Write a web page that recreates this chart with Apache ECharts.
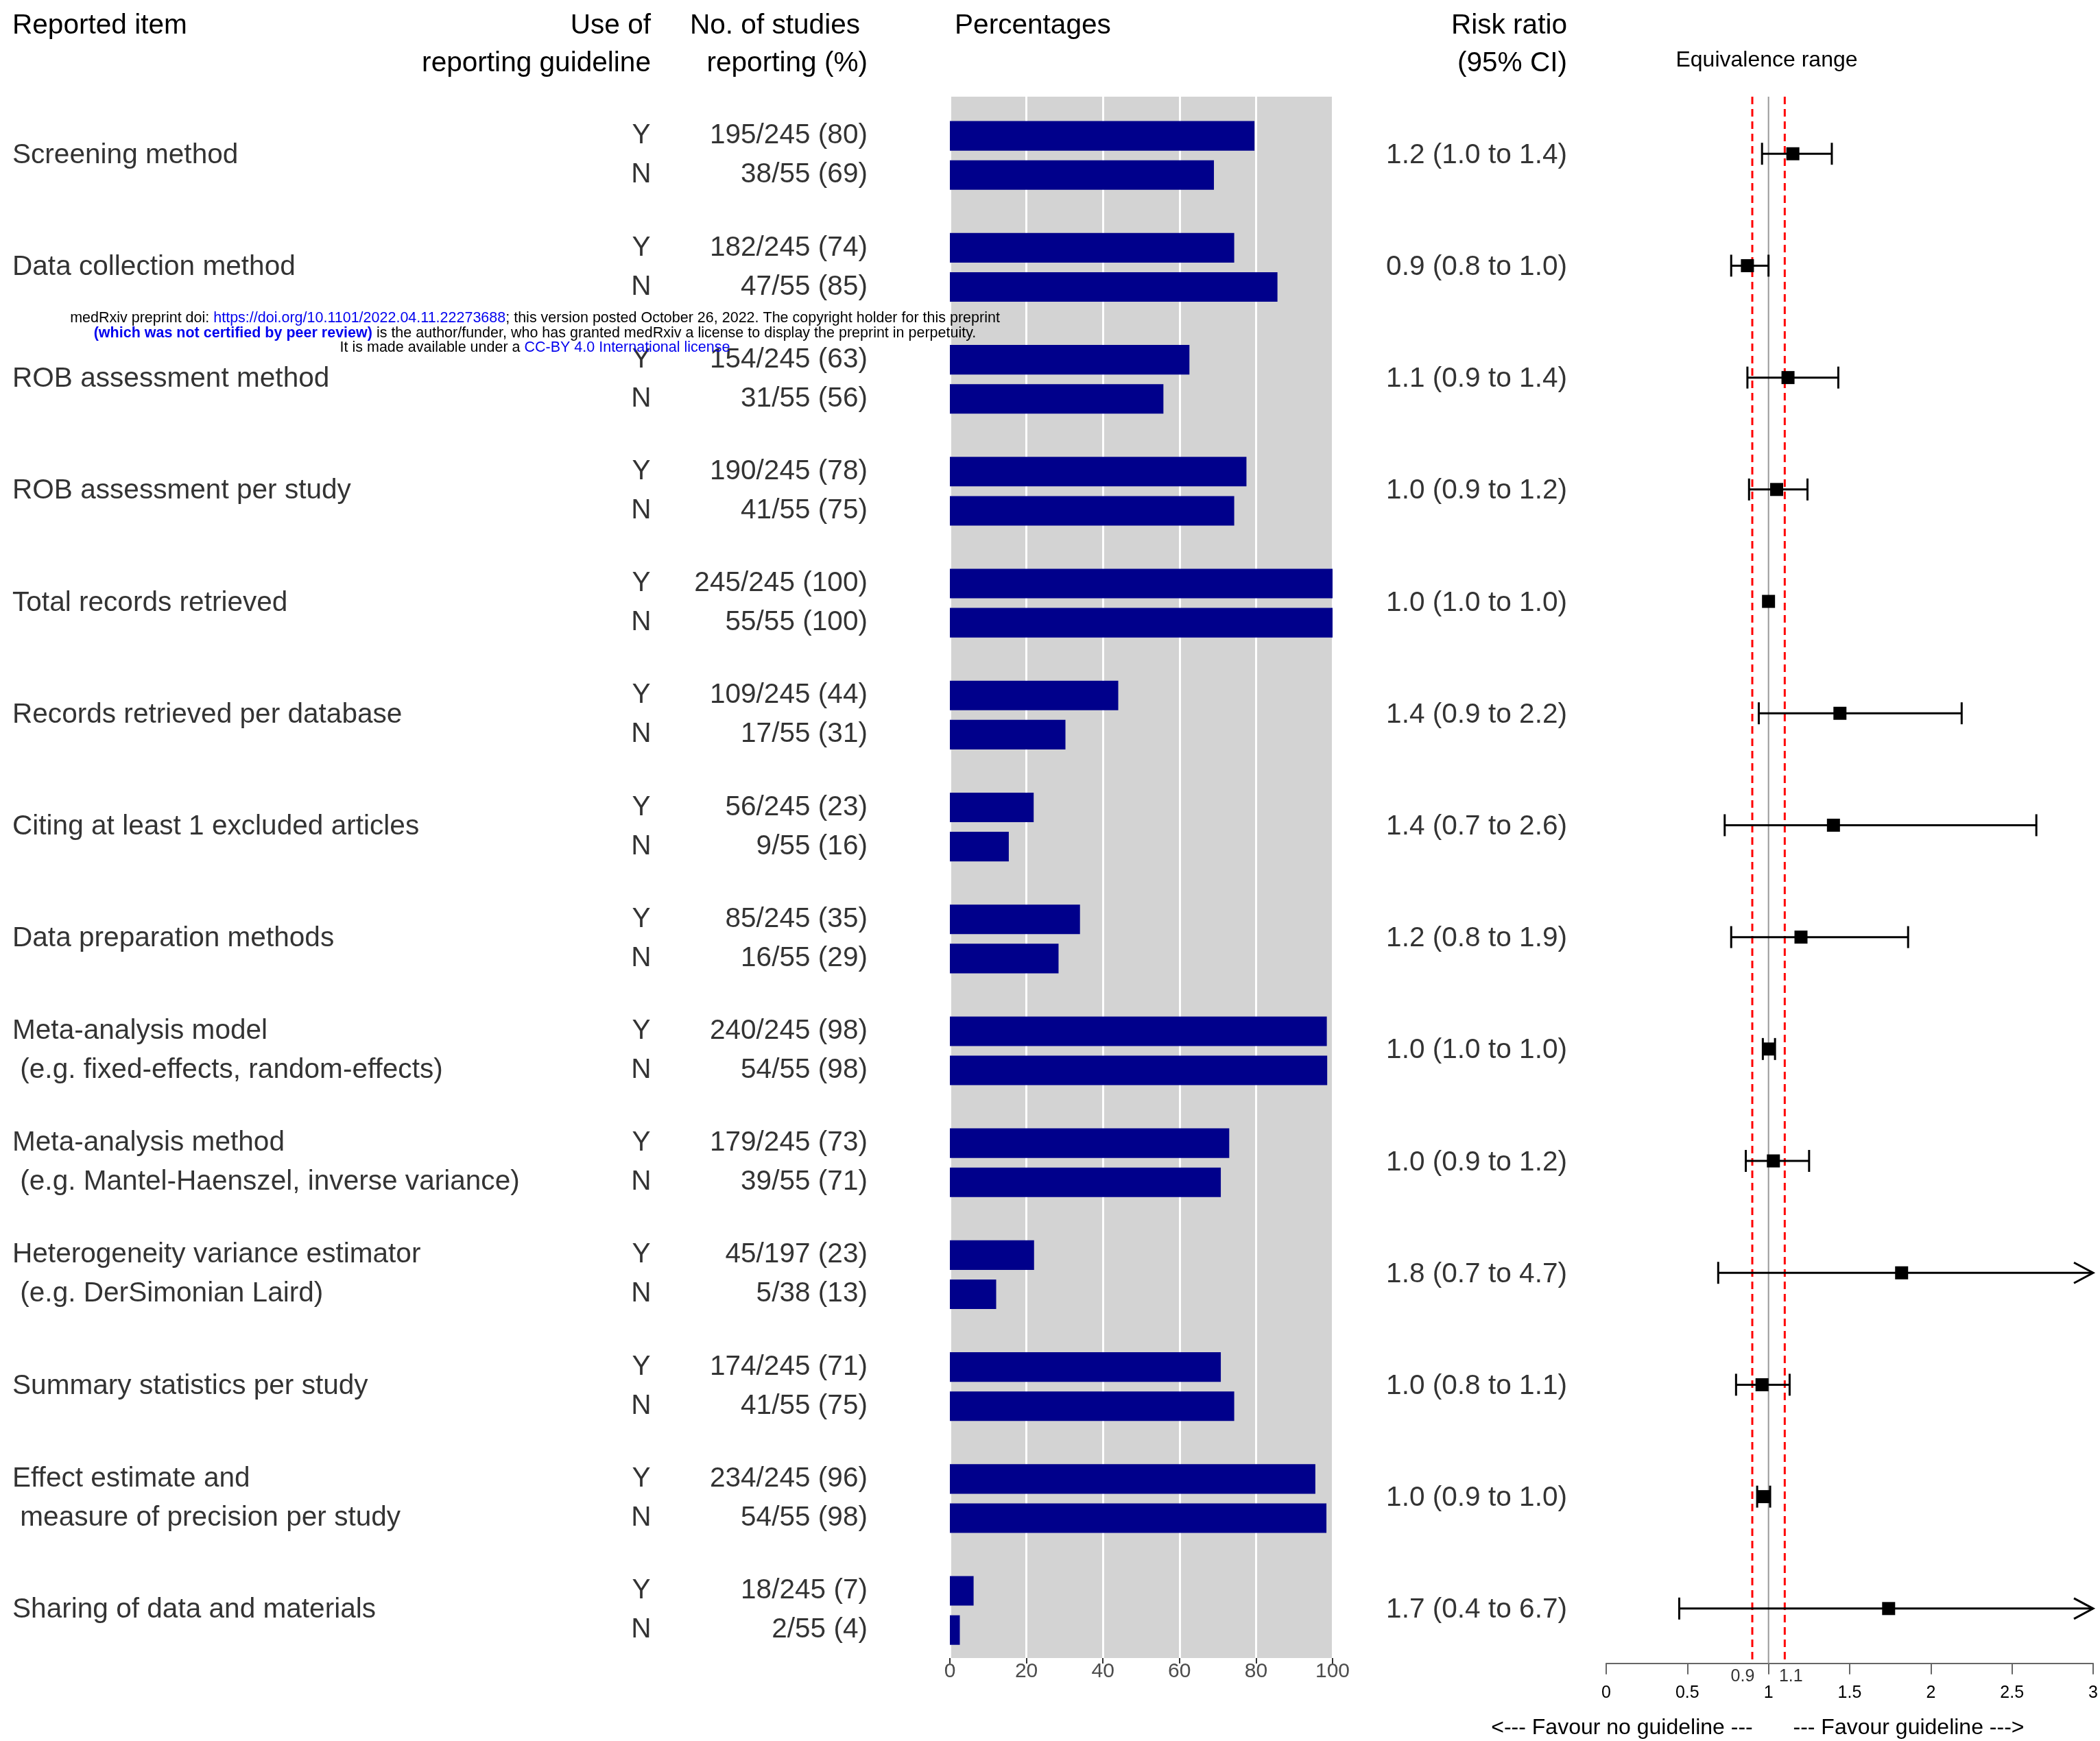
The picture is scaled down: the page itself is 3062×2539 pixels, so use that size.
<!DOCTYPE html>
<html><head><meta charset="utf-8">
<script src="https://cdn.jsdelivr.net/npm/echarts@6/dist/echarts.min.js"></script>
<style>html,body{margin:0;padding:0;background:#fff}#c{width:3062px;height:2539px}</style>
</head><body><div id="c"></div>
<script>
// ---------------- data ----------------
const items = [
  "Screening method",
  "Data collection method",
  "ROB assessment method",
  "ROB assessment per study",
  "Total records retrieved",
  "Records retrieved per database",
  "Citing at least 1 excluded articles",
  "Data preparation methods",
  "Meta-analysis model\n (e.g. fixed-effects, random-effects)",
  "Meta-analysis method\n (e.g. Mantel-Haenszel, inverse variance)",
  "Heterogeneity variance estimator\n (e.g. DerSimonian Laird)",
  "Summary statistics per study",
  "Effect estimate and\n measure of precision per study",
  "Sharing of data and materials"
];
const yesCounts = ["195/245 (80)","182/245 (74)","154/245 (63)","190/245 (78)","245/245 (100)","109/245 (44)","56/245 (23)","85/245 (35)","240/245 (98)","179/245 (73)","45/197 (23)","174/245 (71)","234/245 (96)","18/245 (7)"];
const noCounts  = ["38/55 (69)","47/55 (85)","31/55 (56)","41/55 (75)","55/55 (100)","17/55 (31)","9/55 (16)","16/55 (29)","54/55 (98)","39/55 (71)","5/38 (13)","41/55 (75)","54/55 (98)","2/55 (4)"];
const yesPct = [79.6, 74.3, 62.6, 77.5, 100, 44.0, 21.9, 34.0, 98.5, 73.0, 22.0, 70.8, 95.5, 6.2];
const noPct  = [69.0, 85.6, 55.8, 74.3, 100, 30.2, 15.4, 28.4, 98.6, 70.8, 12.1, 74.3, 98.4, 2.6];
const rrText = ["1.2 (1.0 to 1.4)","0.9 (0.8 to 1.0)","1.1 (0.9 to 1.4)","1.0 (0.9 to 1.2)","1.0 (1.0 to 1.0)","1.4 (0.9 to 2.2)","1.4 (0.7 to 2.6)","1.2 (0.8 to 1.9)","1.0 (1.0 to 1.0)","1.0 (0.9 to 1.2)","1.8 (0.7 to 4.7)","1.0 (0.8 to 1.1)","1.0 (0.9 to 1.0)","1.7 (0.4 to 6.7)"];
const rrEst  = [1.15, 0.87, 1.12, 1.05, 1.00, 1.44, 1.40, 1.20, 1.00, 1.03, 1.82, 0.96, 0.97, 1.74];
const rrLow  = [0.96, 0.77, 0.87, 0.88, 1.00, 0.94, 0.73, 0.77, 0.965, 0.86, 0.69, 0.80, 0.93, 0.45];
const rrHigh = [1.39, 1.00, 1.43, 1.24, 1.00, 2.19, 2.65, 1.86, 1.04, 1.25, 4.70, 1.13, 1.01, 6.70];
const yesNo = ["Y", "N"];
const equivRange = [0.9, 1.1];
const nullValue = 1;
const forestMin = 0, forestMax = 3, forestStep = 0.5;
const pctMin = 0, pctMax = 100, pctStep = 20;
const headers = {
  item: "Reported item",
  guide: ["Use of", "reporting guideline"],
  studies: ["No. of studies", "reporting (%)"],
  pct: "Percentages",
  rr: ["Risk ratio", "(95% CI)"],
  equiv: "Equivalence range",
  favourNo: "<--- Favour no guideline ---",
  favourYes: "--- Favour guideline --->"
};

// ---------------- layout ----------------
const FONT = '"Liberation Sans", Arial, Helvetica, sans-serif';
const FS = 40.6;
const OFF = 0.175;           // Y/N row offset (row units)
const TOP = 141;
const ROWPX = 163.2;
const yMin = -0.525, yMax = 13.475;      // text + bars
const fMin = -0.51, fMax = 13.49;        // forest panel

const chart = echarts.init(document.getElementById('c'), null, {renderer: 'canvas'});

function txt(text, x, y, align, size) {
  return {
    type: 'text', x: x, y: y, z: 100,
    style: { text: text, font: size + 'px ' + FONT, fill: '#000',
      align: align, textAlign: align, verticalAlign: 'middle', textVerticalAlign: 'middle' }
  };
}

const n = items.length;
const labelSeries = (name, data, pos) => ({
  type: 'scatter', name: name, xAxisIndex: 0, yAxisIndex: 0, symbolSize: 0, silent: true,
  clip: false,
  data: data,
  label: { show: true, position: pos, distance: 0, formatter: '{b}', color: '#000',
    fontSize: FS, fontFamily: FONT, lineHeight: 57 }
});

const itemData = items.map((t, k) => ({ name: t, value: [18, k] }));
const ynData = [];
const countData = [];
for (let k = 0; k < n; k++) {
  ynData.push({ name: yesNo[0], value: [935, k - OFF] });
  ynData.push({ name: yesNo[1], value: [935, k + OFF] });
  countData.push({ name: yesCounts[k], value: [1265, k - OFF] });
  countData.push({ name: noCounts[k], value: [1265, k + OFF] });
}
const rrData = rrText.map((t, k) => ({ name: t, value: [2285, k] }));

const barData = [];
for (let k = 0; k < n; k++) {
  barData.push([yesPct[k], k - OFF]);
  barData.push([noPct[k], k + OFF]);
}

const forestData = [];
for (let k = 0; k < n; k++) forestData.push([k, rrLow[k], rrEst[k], rrHigh[k]]);

function renderBar(params, api) {
  const v = api.value(0), y = api.value(1);
  const p0 = api.coord([pctMin, y]);
  const p1 = api.coord([v, y]);
  const h = api.size([0, 0.264])[1];
  return { type: 'rect', shape: { x: p0[0], y: p0[1] - h / 2, width: p1[0] - p0[0], height: h },
    style: { fill: '#00008B' } };
}

function renderForest(params, api) {
  const k = api.value(0), lo = api.value(1), est = api.value(2), hi = api.value(3);
  const pc = api.coord([est, k]);
  const pl = api.coord([Math.max(lo, forestMin), k]);
  const ph = api.coord([Math.min(hi, forestMax), k]);
  const cap = 16, box = 19;
  const st = { stroke: '#000', lineWidth: 3, fill: null };
  const ch = [];
  if (hi > lo) {
    ch.push({ type: 'line', shape: { x1: pl[0], y1: pl[1], x2: ph[0], y2: ph[1] }, style: st });
    ch.push({ type: 'line', shape: { x1: pl[0], y1: pl[1] - cap, x2: pl[0], y2: pl[1] + cap }, style: st });
    if (hi > forestMax) {
      ch.push({ type: 'polyline', shape: { points: [[ph[0] - 28, ph[1] - 15], [ph[0], ph[1]], [ph[0] - 28, ph[1] + 15]] }, style: st });
    } else {
      ch.push({ type: 'line', shape: { x1: ph[0], y1: ph[1] - cap, x2: ph[0], y2: ph[1] + cap }, style: st });
    }
  }
  ch.push({ type: 'rect', shape: { x: pc[0] - box / 2, y: pc[1] - box / 2, width: box, height: box }, style: { fill: '#000' } });
  return { type: 'group', children: ch };
}

const option = {
  animation: false,
  backgroundColor: '#fff',
  textStyle: { fontFamily: FONT },
  grid: [
    { left: 0, top: TOP, width: 3062, height: ROWPX * (yMax - yMin), containLabel: false, outerBoundsMode: 'none' },
    { left: 1385, top: TOP, width: 558, height: 2277, show: true, backgroundColor: '#D3D3D3', borderWidth: 0, containLabel: false, outerBoundsMode: 'none' },
    { left: 2342, top: TOP, width: 710, height: ROWPX * (fMax - fMin), containLabel: false, outerBoundsMode: 'none' }
  ],
  xAxis: [
    { gridIndex: 0, type: 'value', min: 0, max: 3062, show: false },
    { gridIndex: 1, type: 'value', min: pctMin, max: pctMax, interval: pctStep, position: 'bottom',
      axisLine: { show: false, onZero: false },
      axisTick: { show: true, length: 8, lineStyle: { color: '#333', width: 2 } },
      axisLabel: { margin: 5, fontSize: 30, color: '#4D4D4D', fontFamily: FONT },
      splitLine: { show: true, lineStyle: { color: '#fff', width: 3 } } },
    { gridIndex: 2, type: 'value', min: forestMin, max: forestMax, interval: forestStep, position: 'bottom',
      axisLine: { show: true, onZero: false, lineStyle: { color: '#666', width: 2 } },
      axisTick: { show: true, length: 16, lineStyle: { color: '#666', width: 2 } },
      axisLabel: { margin: 31, fontSize: 25, color: '#000', fontFamily: FONT,
        showMinLabel: true, showMaxLabel: true },
      splitLine: { show: false } }
  ],
  yAxis: [
    { gridIndex: 0, type: 'value', min: yMin, max: yMax, inverse: true, show: false },
    { gridIndex: 1, type: 'value', min: yMin, max: 13.425, inverse: true, show: false },
    { gridIndex: 2, type: 'value', min: fMin, max: fMax, inverse: true, show: false }
  ],
  series: [
    labelSeries('items', itemData, 'right'),
    labelSeries('yn', ynData, 'inside'),
    labelSeries('counts', countData, 'left'),
    labelSeries('rr', rrData, 'left'),
    { type: 'custom', name: 'bars', xAxisIndex: 1, yAxisIndex: 1, renderItem: renderBar,
      data: barData, encode: { x: 0, y: 1 }, silent: true, clip: false },
    { type: 'line', name: 'null', xAxisIndex: 2, yAxisIndex: 2, symbol: 'none', silent: true,
      data: [[nullValue, fMin], [nullValue, fMax]], lineStyle: { color: '#999', width: 2 }, z: 1 },
    { type: 'line', name: 'eqLo', xAxisIndex: 2, yAxisIndex: 2, symbol: 'none', silent: true,
      data: [[equivRange[0], fMin], [equivRange[0], fMax]], lineStyle: { color: '#FF0000', width: 3, type: [11, 7] }, z: 2 },
    { type: 'line', name: 'eqHi', xAxisIndex: 2, yAxisIndex: 2, symbol: 'none', silent: true,
      data: [[equivRange[1], fMin], [equivRange[1], fMax]], lineStyle: { color: '#FF0000', width: 3, type: [11, 7] }, z: 2 },
    { type: 'custom', name: 'forest', xAxisIndex: 2, yAxisIndex: 2, renderItem: renderForest,
      data: forestData, encode: { x: [1, 2, 3], y: 0 }, silent: true, clip: false, z: 5 },
    { type: 'scatter', name: 'eqLabels', xAxisIndex: 2, yAxisIndex: 2, symbolSize: 0, silent: true, clip: false,
      data: [
        { name: String(equivRange[0]), value: [equivRange[0], fMax], label: { offset: [-14, 19] } },
        { name: String(equivRange[1]), value: [equivRange[1], fMax], label: { offset: [9, 19] } }
      ],
      label: { show: true, position: 'inside', formatter: '{b}', fontSize: 25, color: '#000', fontFamily: FONT } }
  ],
  graphic: [
    txt(headers.item, 18, 38, 'left', FS),
    txt(headers.guide[0], 949, 38, 'right', FS),
    txt(headers.guide[1], 949, 93, 'right', FS),
    txt(headers.studies[0], 1254, 38, 'right', FS),
    txt(headers.studies[1], 1265, 93, 'right', FS),
    txt(headers.pct, 1392, 38, 'left', FS),
    txt(headers.rr[0], 2285, 38, 'right', FS),
    txt(headers.rr[1], 2285, 93, 'right', FS),
    txt(headers.equiv, 2576, 88, 'center', 32),
    txt(headers.favourNo, 2365, 2520, 'center', 32),
    txt(headers.favourYes, 2783, 2520, 'center', 32),
    { type: 'text', x: 780, y: 464, z: 200, style: {
        text: '{k|medRxiv preprint doi: }{b|https://doi.org/10.1101/2022.04.11.22273688}{k|; this version posted October 26, 2022. The copyright holder for this preprint}',
        align: 'center', textAlign: 'center', verticalAlign: 'middle', textVerticalAlign: 'middle',
        font: '21.5px ' + FONT,
        rich: { k: { fill: '#000', fontSize: 21.5, fontFamily: FONT }, b: { fill: '#0000EE', fontSize: 21.5, fontFamily: FONT } } } },
    { type: 'text', x: 780, y: 486, z: 200, style: {
        text: '{bb|(which was not certified by peer review)}{k| is the author/funder, who has granted medRxiv a license to display the preprint in perpetuity.}',
        align: 'center', textAlign: 'center', verticalAlign: 'middle', textVerticalAlign: 'middle',
        font: '21.5px ' + FONT,
        rich: { k: { fill: '#000', fontSize: 21.5, fontFamily: FONT }, bb: { fill: '#0000EE', fontSize: 21.5, fontWeight: 'bold', fontFamily: FONT } } } },
    { type: 'text', x: 780, y: 507, z: 200, style: {
        text: '{k|It is made available under a }{b|CC-BY 4.0 International license}',
        align: 'center', textAlign: 'center', verticalAlign: 'middle', textVerticalAlign: 'middle',
        font: '21.5px ' + FONT,
        rich: { k: { fill: '#000', fontSize: 21.5, fontFamily: FONT }, b: { fill: '#0000EE', fontSize: 21.5, fontFamily: FONT } } } }
  ]
};
chart.setOption(option);
</script>
</body></html>
